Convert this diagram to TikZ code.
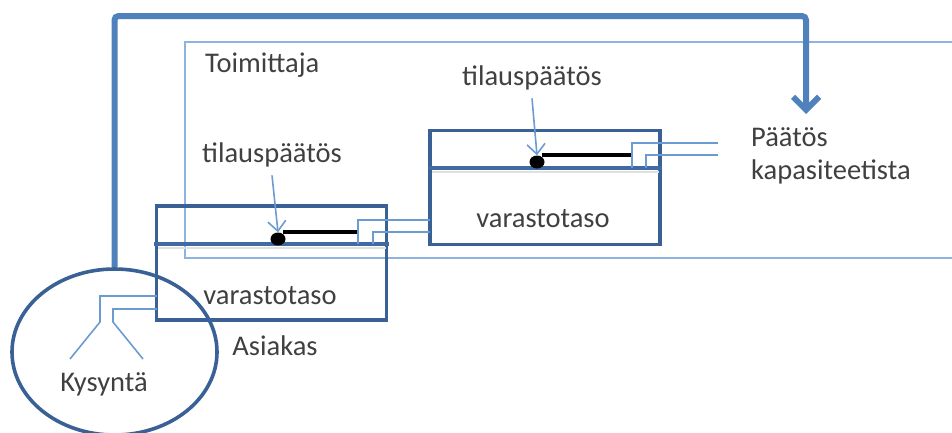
\documentclass[tikz,border=0pt]{standalone}
\usepackage{fontspec}
\setmainfont{Carlito}
\usetikzlibrary{arrows.meta,shapes.geometric}
\definecolor{thickblue}{HTML}{4F81BD}
\definecolor{boxblue}{HTML}{3A6196}
\definecolor{thinblue}{HTML}{6C9BD2}
\definecolor{frameblue}{HTML}{8DB3E2}
\definecolor{txt}{HTML}{404040}
\tikzset{
  lbl/.style={font=\fontsize{28.5}{33}\selectfont, text=txt, inner sep=0pt},
  stockbox/.style={draw=boxblue, line width=3.6pt, minimum width=230pt, minimum height=114pt, inner sep=0pt},
  divider/.style={draw=boxblue!70!thickblue, line width=3.4pt},
  shadowline/.style={draw=black!12, line width=2pt},
  thinline/.style={draw=thinblue, line width=1.6pt},
  framel/.style={draw=frameblue, line width=1.5pt},
  thinarrow/.style={draw=thinblue, line width=1.6pt, -{Straight Barb[length=10pt,width=18pt,line width=1.6pt]}},
  bigarrow/.style={draw=thickblue, line width=6pt, rounded corners=4pt, -{Straight Barb[length=13pt,width=26pt,line width=6pt]}},
  flowline/.style={draw=black, line width=4pt},
  dot/.style={fill=black, ellipse, minimum width=15pt, minimum height=13pt, inner sep=0pt},
  demand/.style={draw=boxblue, line width=3.6pt, ellipse, minimum width=205pt, minimum height=166pt, inner sep=0pt}
}
\begin{document}
\begin{tikzpicture}[x=1pt,y=-1pt]
\useasboundingbox (0,0) rectangle (952,432);
% Toimittaja frame (open to the right)
\coordinate (ftr) at (952,42);
\coordinate (ftl) at (185,42);
\coordinate (fbl) at (185,258);
\coordinate (fbr) at (952,258);
\draw[framel] (ftr) -- (ftl) -- (fbl) -- (fbr);
\node[lbl, anchor=west] (toim) at (205,65) {Toimittaja};

% boxes
\node[stockbox] (b1) at (271.5,263) {};
\node[stockbox] (b2) at (545,187.5) {};
\coordinate (d1l) at (154,244); \coordinate (d1r) at (389,244);
\coordinate (d2l) at (428,168); \coordinate (d2r) at (662,168);
\draw[shadowline] (158,248) -- (386,248);
\draw[shadowline] (432,172) -- (659,172);
\draw[divider] (d1l) -- (d1r);
\draw[divider] (d2l) -- (d2r);
\node[lbl] (v1) at (270,296) {varastotaso};
\node[lbl] (v2) at (543,219) {varastotaso};

% flows inside boxes
\node[dot] (dot1) at (278,239) {};
\node[dot] (dot2) at (537,162) {};
\coordinate (e1) at (358,232);
\coordinate (e2) at (632,155);
\draw[flowline] (dot1.north east |- e1) -- (e1);
\draw[flowline] (dot2.north east |- e2) -- (e2);

% information lines between boxes
\coordinate (c1a) at (358,244); \coordinate (c1b) at (358,220); \coordinate (c1c) at (430,220);
\coordinate (c2a) at (373,244); \coordinate (c2b) at (373,232); \coordinate (c2c) at (430,232);
\draw[thinline] (c1a) -- (c1b) -- (c1c);
\draw[thinline] (c2a) -- (c2b) -- (c2c);
\coordinate (c3a) at (632,168); \coordinate (c3b) at (632,143); \coordinate (c3c) at (718,143);
\coordinate (c4a) at (646,168); \coordinate (c4b) at (646,155); \coordinate (c4c) at (718,155);
\draw[thinline] (c3a) -- (c3b) -- (c3c);
\draw[thinline] (c4a) -- (c4b) -- (c4c);

% order decisions
\node[lbl] (t1) at (272,155) {tilauspäätös};
\node[lbl] (t2) at (532,78) {tilauspäätös};
\draw[thinarrow] ([yshift=-8pt]t1.south) -- (dot1.north);
\draw[thinarrow] ([yshift=-8pt]t2.south) -- (dot2.north);

% capacity decision
\node[lbl, anchor=north west, align=left] (pk) at (751,127) {Päätös\\kapasiteetista};

% demand
\node[demand] (kys) at (114.5,352) {};
\node[lbl] (kyst) at (104,384) {Kysyntä};
\coordinate (k1a) at (157,296); \coordinate (k1b) at (100,296); \coordinate (k1c) at (100,322); \coordinate (k1d) at (70,359);
\coordinate (k2a) at (157,309); \coordinate (k2b) at (113,309); \coordinate (k2c) at (113,322); \coordinate (k2d) at (143,359);
\draw[thinline] (k1a) -- (k1b) -- (k1c) -- (k1d);
\draw[thinline] (k2a) -- (k2b) -- (k2c) -- (k2d);
\node[lbl] (asi) at (275,346) {Asiakas};

% big feedback arrow
\coordinate (top) at (806,16);
\coordinate (tip) at (806,114);
\draw[bigarrow] (kys.north) |- (top) -- (tip);
\end{tikzpicture}
\end{document}
